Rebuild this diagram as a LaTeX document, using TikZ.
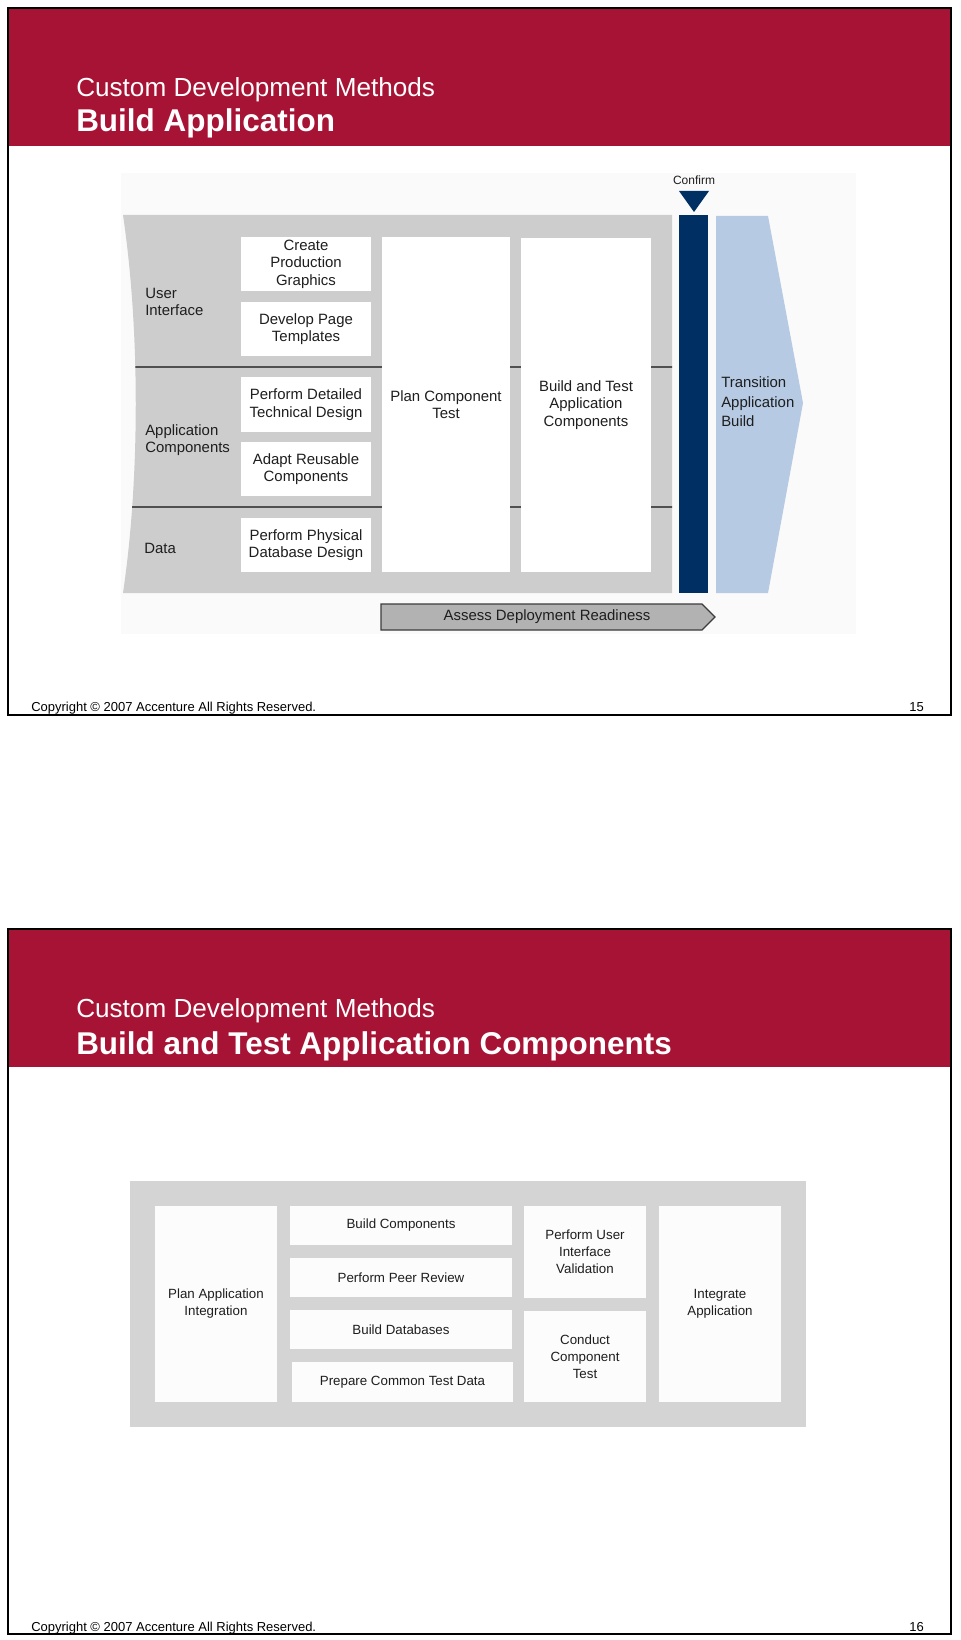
\documentclass[tikz,border=0pt]{standalone}
\usepackage{fontspec}
\setmainfont{Liberation Sans}
\definecolor{slidered}{RGB}{167,19,52}
\definecolor{panelgray}{RGB}{205,205,205}
\definecolor{panelgraytwo}{RGB}{212,212,212}
\definecolor{navybar}{RGB}{0,47,99}
\definecolor{lightblue}{RGB}{182,202,227}
\definecolor{txt}{RGB}{30,30,30}
\definecolor{sepline}{RGB}{80,80,80}
\definecolor{arrowgray}{RGB}{178,178,178}
\definecolor{arrowedge}{RGB}{60,60,60}
\definecolor{faint}{RGB}{250,250,250}
\definecolor{offwhite}{RGB}{252,252,252}
\begin{document}
\begin{tikzpicture}[x=0.75pt,y=-0.75pt,
  wbox/.style 2 args={fill=white, draw=none, minimum width={#1*0.75pt}, minimum height={#2*0.75pt}, inner sep=0pt, align=center, text=txt, font=\fontsize{11.2}{13.2}\selectfont},
  wboxtwo/.style 2 args={fill=offwhite, draw=none, minimum width={#1*0.75pt}, minimum height={#2*0.75pt}, inner sep=0pt, align=center, text=txt, font=\fontsize{10}{12.7}\selectfont},
  rowlabel/.style={anchor=west, align=left, inner sep=0pt, text=txt, font=\fontsize{11.2}{13.2}\selectfont},
  titleone/.style={anchor=base west, inner sep=0pt, text=white, font=\fontsize{19.6}{22}\selectfont},
  titletwo/.style={anchor=base west, inner sep=0pt, text=white, font=\fontsize{23.6}{26}\selectfont\bfseries},
  copyr/.style={anchor=base west, inner sep=0pt, text=black, font=\fontsize{9.75}{11}\selectfont},
  pagenum/.style={anchor=base east, inner sep=0pt, text=black, font=\fontsize{9.75}{11}\selectfont},
  frame/.style={draw=black, line width=1.9pt}
]
\useasboundingbox (0,0) rectangle (960,1640);
\fill[white] (0,0) rectangle (960,1640);

%================ SLIDE 1 ================
\fill[slidered] (8,8) rectangle (951,146);
\node[titleone] (t1a) at (76,96.5) {Custom Development Methods};
\node[titletwo] (t1b) at (76,132) {Build Application};

% faint image background
\fill[faint] (121,173) rectangle (856,634);

% gray panel with concave left side
\fill[panelgray] (123,215) -- (672,215) -- (672,593) -- (123,593)
  .. controls (140,478) and (140,330) .. (123,215) -- cycle;
\begin{scope}
  \clip (123,215) -- (672,215) -- (672,593) -- (123,593)
    .. controls (140,478) and (140,330) .. (123,215) -- cycle;
  \draw[sepline, line width=1.5pt] (100,367) -- (680,367);
  \draw[sepline, line width=1.5pt] (100,507) -- (680,507);
\end{scope}

% row labels
\node[rowlabel] (ui) at (145,302) {User\\Interface};
\node[rowlabel] (ac) at (145,440) {Application\\Components};
\node[rowlabel] (da) at (144,548) {Data};

% activity boxes
\node[wbox={130}{54}] (cpg) at (306,264) {Create\\Production\\Graphics};
\node[wbox={130}{54}] (dpt) at (306,329) {Develop Page\\Templates};
\node[wbox={130}{55}] (pdt) at (306,404.5) {Perform Detailed\\Technical Design};
\node[wbox={130}{54}] (arc) at (306,469) {Adapt Reusable\\Components};
\node[wbox={130}{54}] (ppd) at (306,545) {Perform Physical\\Database Design};
\node[wbox={128}{335}] (pct) at (446,404.5) {Plan Component\\Test};
\node[wbox={130}{334}] (bta) at (586,405) {Build and Test\\Application\\Components};

% confirm milestone
\fill[navybar] (679,215) rectangle (708,593);
\node[inner sep=0pt, text=txt, font=\fontsize{9}{10}\selectfont] (conf) at (694,180) {Confirm};
\fill[navybar] (679,191) -- (709,191) -- (694,212) -- cycle;

% transition chevron
\fill[lightblue] (716,216) -- (768,216) -- (803,403) -- (768,593) -- (716,593) -- cycle;
\node[anchor=west, align=left, inner sep=0pt, text=txt, font=\fontsize{11.2}{14.6}\selectfont] (tab) at (721,402) {Transition\\Application\\Build};

% assess deployment readiness arrow
\draw[fill=arrowgray, draw=arrowedge, line width=0.9pt]
  (381,604) -- (702,604) -- (715,617) -- (702,630) -- (381,630) -- cycle;
\node[inner sep=0pt, text=txt, font=\fontsize{11.2}{13.2}\selectfont] (adr) at (547,617) {Assess Deployment Readiness};

\node[copyr] (cp1) at (31,711) {Copyright \textcopyright\ 2007 Accenture All Rights Reserved.};
\node[pagenum] (pg1) at (924,711) {15};
\draw[frame] (8,8) rectangle (951,715);

%================ SLIDE 2 ================
\fill[slidered] (8,929) rectangle (951,1067);
\node[titleone] (t2a) at (76,1017.5) {Custom Development Methods};
\node[titletwo] (t2b) at (76,1054) {Build and Test Application Components};

\fill[panelgraytwo] (130,1181) rectangle (806,1427);
\node[wboxtwo={122}{196}] (pai) at (216,1304) {Plan Application\\Integration};
\node[wboxtwo={222}{39}] (bc) at (401,1225.5) {Build Components};
\node[wboxtwo={222}{39}] (ppr) at (401,1277.5) {Perform Peer Review};
\node[wboxtwo={222}{39}] (bdb) at (401,1329.5) {Build Databases};
\node[wboxtwo={221}{40}] (pctd) at (402.5,1382) {Prepare Common Test Data};
\node[wboxtwo={122}{92}] (puiv) at (585,1252) {Perform User\\Interface\\Validation};
\node[wboxtwo={122}{91}] (cct) at (585,1356.5) {Conduct\\Component\\Test};
\node[wboxtwo={122}{196}] (ia) at (720,1304) {Integrate\\Application};

\node[copyr] (cp2) at (31,1631) {Copyright \textcopyright\ 2007 Accenture All Rights Reserved.};
\node[pagenum] (pg2) at (924,1631) {16};
\draw[frame] (8,929) rectangle (951,1634);
\end{tikzpicture}
\end{document}
